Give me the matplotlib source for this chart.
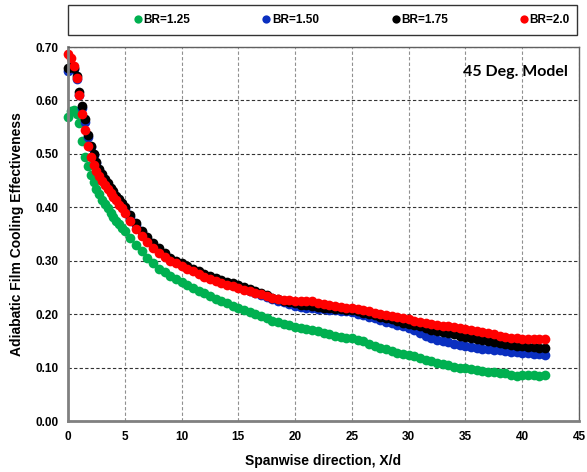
import matplotlib.pyplot as plt
from matplotlib.patches import Rectangle

plt.rcParams['font.family'] = ['Liberation Sans', 'DejaVu Sans']
plt.rcParams['font.weight'] = 'bold'

# spanwise position X/d: 0.25 steps near the hole, 0.5 steps downstream
xd = [i * 0.25 for i in range(21)] + [5.5 + i * 0.5 for i in range(74)]

eta_br125 = [0.569, 0.580, 0.582, 0.575, 0.558, 0.524, 0.495, 0.477, 0.460, 0.447,
             0.435, 0.424, 0.414, 0.406, 0.398, 0.390, 0.382, 0.375, 0.368, 0.361,
             0.355,
             0.342, 0.330, 0.318, 0.305, 0.295, 0.285, 0.278, 0.272, 0.266,
             0.260, 0.254, 0.249, 0.244, 0.239, 0.234, 0.229, 0.224, 0.220, 0.216,
             0.212, 0.208, 0.204, 0.200, 0.196, 0.192, 0.188, 0.185, 0.182, 0.179,
             0.176, 0.174, 0.172, 0.170, 0.168, 0.165, 0.162, 0.160, 0.158, 0.156,
             0.155, 0.152, 0.149, 0.145, 0.140, 0.137, 0.134, 0.131, 0.128, 0.126,
             0.124, 0.121, 0.118, 0.115, 0.112, 0.109, 0.107, 0.104, 0.102, 0.100,
             0.099, 0.097, 0.095, 0.093, 0.092, 0.091, 0.090, 0.089, 0.087, 0.085,
             0.086, 0.086, 0.086, 0.085, 0.086]

eta_br150 = [0.655, 0.658, 0.658, 0.640, 0.610, 0.585, 0.560, 0.532, 0.512, 0.497,
             0.482, 0.469, 0.459, 0.450, 0.442, 0.434, 0.427, 0.419, 0.412, 0.405,
             0.397,
             0.382, 0.367, 0.353, 0.341, 0.330, 0.320, 0.311, 0.303, 0.297,
             0.292, 0.287, 0.282, 0.277, 0.273, 0.269, 0.265, 0.261, 0.258, 0.255,
             0.252, 0.248, 0.244, 0.240, 0.236, 0.232, 0.228, 0.225, 0.222, 0.219,
             0.216, 0.213, 0.212, 0.211, 0.210, 0.209, 0.208, 0.207, 0.206, 0.205,
             0.204, 0.201, 0.198, 0.195, 0.192, 0.189, 0.186, 0.183, 0.180, 0.177,
             0.174, 0.170, 0.165, 0.160, 0.156, 0.152, 0.149, 0.147, 0.145, 0.143,
             0.141, 0.139, 0.137, 0.135, 0.134, 0.133, 0.132, 0.131, 0.130, 0.129,
             0.128, 0.127, 0.126, 0.125, 0.124]

eta_br175 = [0.660, 0.662, 0.660, 0.645, 0.615, 0.590, 0.565, 0.535, 0.515, 0.500,
             0.485, 0.472, 0.462, 0.453, 0.445, 0.437, 0.430, 0.422, 0.415, 0.408,
             0.400,
             0.385, 0.370, 0.356, 0.344, 0.333, 0.323, 0.314, 0.306, 0.300,
             0.295, 0.290, 0.285, 0.280, 0.276, 0.272, 0.268, 0.264, 0.261, 0.258,
             0.255, 0.251, 0.247, 0.243, 0.239, 0.235, 0.231, 0.228, 0.225, 0.222,
             0.220, 0.218, 0.217, 0.215, 0.214, 0.212, 0.211, 0.210, 0.209, 0.208,
             0.207, 0.205, 0.203, 0.201, 0.198, 0.195, 0.192, 0.190, 0.187, 0.184,
             0.182, 0.179, 0.177, 0.174, 0.171, 0.169, 0.166, 0.164, 0.162, 0.160,
             0.158, 0.156, 0.154, 0.152, 0.150, 0.148, 0.146, 0.145, 0.143, 0.141,
             0.140, 0.139, 0.138, 0.137, 0.137]

eta_br200 = [0.687, 0.680, 0.665, 0.642, 0.610, 0.575, 0.545, 0.515, 0.495, 0.480,
             0.468, 0.458, 0.449, 0.441, 0.434, 0.427, 0.420, 0.413, 0.405, 0.398,
             0.390,
             0.375, 0.360, 0.347, 0.335, 0.324, 0.315, 0.307, 0.300, 0.295,
             0.290, 0.285, 0.280, 0.275, 0.270, 0.266, 0.262, 0.258, 0.255, 0.252,
             0.249, 0.246, 0.243, 0.240, 0.237, 0.234, 0.231, 0.229, 0.227, 0.226,
             0.225, 0.224, 0.225, 0.224, 0.221, 0.219, 0.217, 0.216, 0.214, 0.212,
             0.211, 0.209, 0.207, 0.205, 0.203, 0.201, 0.199, 0.197, 0.195, 0.193,
             0.191, 0.188, 0.186, 0.184, 0.182, 0.180, 0.178, 0.177, 0.176, 0.174,
             0.173, 0.171, 0.169, 0.167, 0.165, 0.162, 0.160, 0.158, 0.156, 0.155,
             0.154, 0.154, 0.153, 0.153, 0.153]

series = [
    ("BR=1.25", eta_br125, "#00B050"),
    ("BR=1.50", eta_br150, "#0A2FC0"),
    ("BR=1.75", eta_br175, "#000000"),
    ("BR=2.0", eta_br200, "#FF0000"),
]

fig = plt.figure(figsize=(5.87, 4.72), dpi=100)
ax = fig.add_axes([68 / 587, 51 / 472, 511 / 587, 374 / 472])

for label, eta, col in series:
    ax.plot(xd, eta, linestyle="none", marker="o", markersize=7,
            color=col, markeredgewidth=0, label=label, clip_on=False)

ax.set_xlim(0, 45)
ax.set_ylim(0, 0.70)
ax.set_xticks(range(0, 46, 5))
ax.set_yticks([i / 10 for i in range(8)])
ax.set_yticklabels(["%.2f" % (i / 10) for i in range(8)])
ax.tick_params(length=0, labelsize=8.5, pad=7)
for t in ax.get_xticklabels() + ax.get_yticklabels():
    t.set_fontweight("bold")

ax.yaxis.grid(True, linestyle=(0, (3, 2)), color="#333333", linewidth=0.8)
ax.xaxis.grid(True, linestyle=(0, (3, 2)), color="#909090", linewidth=0.8)
ax.set_axisbelow(True)
for side in ["left", "bottom"]:
    ax.spines[side].set_color("#808080")
    ax.spines[side].set_linewidth(2)
for side in ["top", "right"]:
    ax.spines[side].set_color("#606060")
    ax.spines[side].set_linewidth(1)

ax.set_xlabel("Spanwise direction, X/d", fontsize=10, fontweight="bold", labelpad=8)
ax.set_ylabel("Adiabatic Film Cooling Effectiveness", fontsize=10, fontweight="bold", labelpad=8)

ax.text(44.0, 0.653, "45 Deg. Model", ha="right", va="center",
        fontsize=11.5, fontweight="bold", family=["Lato", "DejaVu Sans"])

# legend box across the top
fig.patches.append(Rectangle((68 / 587, 1 - 35 / 472), 509 / 587, 30 / 472,
                             transform=fig.transFigure, fill=False,
                             edgecolor="#333333", linewidth=1))
fig.legend(loc="center", bbox_to_anchor=(352 / 587, 1 - 20 / 472), ncol=4,
           frameon=False, handlelength=0.6, handletextpad=0.15,
           columnspacing=6.2, markerscale=0.85, prop={"weight": "bold", "size": 8.5})

fig.savefig("out.png", dpi=100)
